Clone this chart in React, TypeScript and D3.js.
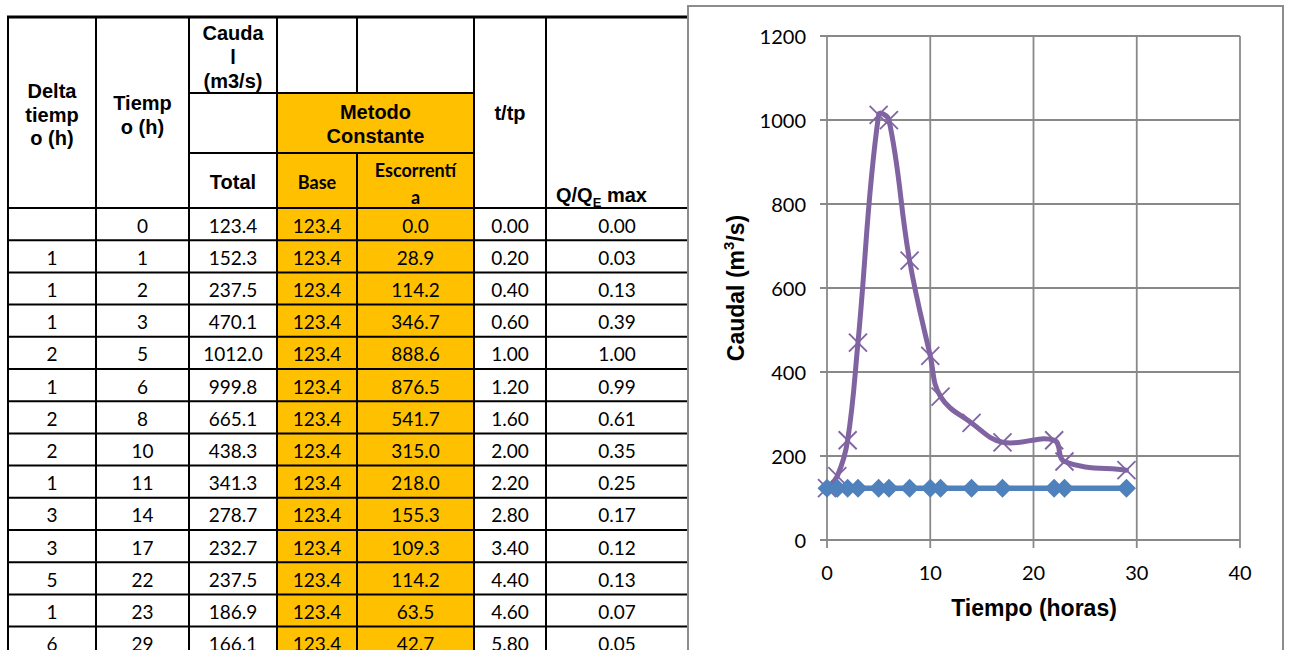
import React from "react";
import * as d3 from "d3";

// Hidrograma: tabla de caudales y gráfico caudal vs tiempo
const deltaT = ["", "1", "1", "1", "2", "1", "2", "2", "1", "3", "3", "5", "1", "6"];
const tiempo = [0, 1, 2, 3, 5, 6, 8, 10, 11, 14, 17, 22, 23, 29];
const caudalTotal = [123.4, 152.3, 237.5, 470.1, 1012.0, 999.8, 665.1, 438.3, 341.3, 278.7, 232.7, 237.5, 186.9, 166.1];
const caudalBase = [123.4, 123.4, 123.4, 123.4, 123.4, 123.4, 123.4, 123.4, 123.4, 123.4, 123.4, 123.4, 123.4, 123.4];
const escorrentia = [0.0, 28.9, 114.2, 346.7, 888.6, 876.5, 541.7, 315.0, 218.0, 155.3, 109.3, 114.2, 63.5, 42.7];
const tSobreTp = [0.0, 0.2, 0.4, 0.6, 1.0, 1.2, 1.6, 2.0, 2.2, 2.8, 3.4, 4.4, 4.6, 5.8];
const qSobreQmax = [0.0, 0.03, 0.13, 0.39, 1.0, 0.99, 0.61, 0.35, 0.25, 0.17, 0.12, 0.13, 0.07, 0.05];

const xTicks = [0, 10, 20, 30, 40];
const yTicks = [0, 200, 400, 600, 800, 1000, 1200];

const ARIAL = "'Liberation Sans', Arial, sans-serif";
const CALIBRI = "Lato, 'Open Sans', sans-serif";
const ORANGE = "#FFC000";
const PURPLE = "#8064A2";
const BLUE = "#4F81BD";
const GRID = "#898989";

// table geometry
const colX = [8, 96, 189, 277, 357, 474, 546, 688];
const headTop = 17;
const headMid1 = 93;
const headMid2 = 153;
const bodyTop = 208;
const rowH = 32.2;
const bottom = 700;

// Smoothed Bezier through points, tangents weighted by neighbouring chord lengths
function smoothPath(pts: [number, number][], k = 0.4): string {
  const p = d3.path();
  const n = pts.length;
  if (!n) return "";
  const dist = (a: [number, number], b: [number, number]) => Math.hypot(b[0] - a[0], b[1] - a[1]);
  const tangents = pts.map((pt, i) => {
    if (i === 0 || i === n - 1) return null;
    const prev = pts[i - 1];
    const next = pts[i + 1];
    const d0 = dist(prev, pt);
    const d1 = dist(pt, next);
    const tx = next[0] - prev[0];
    const ty = next[1] - prev[1];
    const s = d0 + d1 || 1;
    return {
      inX: pt[0] - tx * (d0 / s) * k,
      inY: pt[1] - ty * (d0 / s) * k,
      outX: pt[0] + tx * (d1 / s) * k,
      outY: pt[1] + ty * (d1 / s) * k,
    };
  });
  p.moveTo(pts[0][0], pts[0][1]);
  for (let i = 0; i < n - 1; i++) {
    const a = pts[i];
    const b = pts[i + 1];
    const ta = tangents[i];
    const tb = tangents[i + 1];
    const c1x = ta ? ta.outX : a[0] + (b[0] - a[0]) / 3;
    const c1y = ta ? ta.outY : a[1] + (b[1] - a[1]) / 3;
    const c2x = tb ? tb.inX : b[0] - (b[0] - a[0]) / 3;
    const c2y = tb ? tb.inY : b[1] - (b[1] - a[1]) / 3;
    p.bezierCurveTo(c1x, c1y, c2x, c2y, b[0], b[1]);
  }
  return p.toString();
}

function Table() {
  const cx = (i: number) => (colX[i] + colX[i + 1]) / 2;
  const hdr = { fontFamily: ARIAL, fontWeight: 700, fontSize: 20, fill: "#000" } as const;
  const hdrC = { fontFamily: CALIBRI, fontWeight: 700, fontSize: 18, fill: "#000" } as const;
  const body = { fontFamily: CALIBRI, fontSize: 19, fill: "#000" } as const;

  const rows = tiempo.map((t, i) => ({
    cells: [
      deltaT[i],
      String(t),
      caudalTotal[i].toFixed(1),
      caudalBase[i].toFixed(1),
      escorrentia[i].toFixed(1),
      tSobreTp[i].toFixed(2),
      qSobreQmax[i].toFixed(2),
    ],
    y: bodyTop + i * rowH,
  }));

  return (
    <g>
      {/* orange cells */}
      <rect x={colX[3]} y={headMid1} width={colX[5] - colX[3]} height={bottom - headMid1} fill={ORANGE} />
      {/* header text */}
      {["Delta", "tiemp", "o (h)"].map((s, k) => (
        <text key={s} x={cx(0)} y={91 + k * 23.5} textAnchor="middle" dominantBaseline="central" {...hdr}>{s}</text>
      ))}
      {["Tiemp", "o (h)"].map((s, k) => (
        <text key={s} x={cx(1)} y={103 + k * 23.5} textAnchor="middle" dominantBaseline="central" {...hdr}>{s}</text>
      ))}
      {["Cauda", "l", "(m3/s)"].map((s, k) => (
        <text key={s} x={cx(2)} y={33 + k * 24} textAnchor="middle" dominantBaseline="central" {...hdr}>{s}</text>
      ))}
      <text x={cx(2)} y={182} textAnchor="middle" dominantBaseline="central" {...hdr}>Total</text>
      {["Metodo", "Constante"].map((s, k) => (
        <text key={s} x={(colX[3] + colX[5]) / 2} y={112 + k * 24} textAnchor="middle" dominantBaseline="central" {...hdr}>{s}</text>
      ))}
      <text x={cx(3)} y={182} textAnchor="middle" dominantBaseline="central" {...hdrC}>Base</text>
      {["Escorrentí", "a"].map((s, k) => (
        <text key={s} x={cx(4)} y={170 + k * 27} textAnchor="middle" dominantBaseline="central" {...hdrC}>{s}</text>
      ))}
      <text x={cx(5)} y={113} textAnchor="middle" dominantBaseline="central" {...hdr}>t/tp</text>
      <text x={556} y={202} {...hdr}>
        Q/Q<tspan fontSize={13} dy={5}>E</tspan><tspan dy={-5}> max</tspan>
      </text>

      {/* body text */}
      {rows.map((r, i) =>
        r.cells.map((c, j) => (
          <text key={`${i}-${j}`} x={cx(j)} y={r.y + rowH / 2 + 1} textAnchor="middle" dominantBaseline="central" {...body}>{c}</text>
        ))
      )}

      {/* grid lines */}
      <g stroke="#000" strokeWidth={2}>
        {[0, 1, 2, 3, 5, 6].map((i) => (
          <line key={`v${i}`} x1={colX[i]} x2={colX[i]} y1={headTop} y2={bottom} />
        ))}
        <line x1={colX[4]} x2={colX[4]} y1={headTop} y2={headMid1} />
        <line x1={colX[4]} x2={colX[4]} y1={headMid2} y2={bottom} />
        <line x1={colX[2]} x2={colX[5]} y1={headMid1} y2={headMid1} />
        <line x1={colX[2]} x2={colX[5]} y1={headMid2} y2={headMid2} />
        {rows.map((r, i) => (
          <line key={`h${i}`} x1={colX[0]} x2={colX[7]} y1={r.y} y2={r.y} />
        ))}
        <line x1={colX[0] - 1} x2={colX[7]} y1={headTop} y2={headTop} strokeWidth={3} />
      </g>
    </g>
  );
}

function Chart() {
  const x = d3.scaleLinear().domain([0, 40]).range([827, 1240]);
  const y = d3.scaleLinear().domain([0, 1200]).range([540, 36]);

  const totalPts: [number, number][] = tiempo.map((t, i) => [t, caudalTotal[i]]);
  const basePts: [number, number][] = tiempo.map((t, i) => [t, caudalBase[i]]);
  const totalPx: [number, number][] = totalPts.map(([t, q]) => [x(t), y(q)]);

  const straight = d3
    .line<[number, number]>()
    .x((d) => x(d[0]))
    .y((d) => y(d[1]));

  const tickFont = { fontFamily: CALIBRI, fontSize: 20, fill: "#000" } as const;
  const titleFont = { fontFamily: ARIAL, fontWeight: 700, fontSize: 23, fill: "#000" } as const;
  const xs = 9;
  const ds = 9.5;

  return (
    <g>
      <rect x={688} y={6} width={595} height={700} fill="#fff" stroke="#8c8c8c" strokeWidth={2} />
      {/* gridlines + ticks */}
      <g stroke={GRID} strokeWidth={1.8}>
        {yTicks.map((v) => (
          <line key={`gy${v}`} x1={x(0) - 7} x2={x(40)} y1={y(v)} y2={y(v)} />
        ))}
        {xTicks.map((v) => (
          <line key={`gx${v}`} x1={x(v)} x2={x(v)} y1={y(1200)} y2={y(0) + 8} />
        ))}
      </g>
      {yTicks.map((v) => (
        <text key={`ty${v}`} x={806} y={y(v)} textAnchor="end" dominantBaseline="central" {...tickFont}>{v}</text>
      ))}
      {xTicks.map((v) => (
        <text key={`tx${v}`} x={x(v)} y={572} textAnchor="middle" dominantBaseline="central" {...tickFont}>{v}</text>
      ))}
      <text x={1034} y={608} textAnchor="middle" dominantBaseline="central" {...titleFont}>Tiempo (horas)</text>
      <text transform="translate(736,288) rotate(-90)" textAnchor="middle" dominantBaseline="central" {...titleFont}>
        Caudal (m<tspan fontSize={15} dy={-8}>3</tspan><tspan dy={8}>/s)</tspan>
      </text>

      {/* caudal total */}
      <path d={smoothPath(totalPx)} fill="none" stroke={PURPLE} strokeWidth={5} strokeLinejoin="round" strokeLinecap="round" />
      <g stroke={PURPLE} strokeWidth={1.8}>
        {totalPts.map(([t, q], i) => (
          <g key={`m${i}`} transform={`translate(${x(t)},${y(q)})`}>
            <line x1={-xs} y1={-xs} x2={xs} y2={xs} />
            <line x1={-xs} y1={xs} x2={xs} y2={-xs} />
          </g>
        ))}
      </g>

      {/* caudal base */}
      <path d={straight(basePts) ?? ""} fill="none" stroke={BLUE} strokeWidth={5.5} />
      {basePts.map(([t, q], i) => (
        <path
          key={`d${i}`}
          transform={`translate(${x(t)},${y(q)})`}
          d={`M0,${-ds}L${ds},0L0,${ds}L${-ds},0Z`}
          fill={BLUE}
        />
      ))}
    </g>
  );
}

export default function App() {
  return (
    <div style={{ position: "fixed", left: 0, top: 0, width: 1291, height: 650, overflow: "hidden", background: "#fff" }}>
      <svg width={1291} height={650} style={{ display: "block" }}>
        <rect width={1291} height={650} fill="#fff" />
        <Table />
        <Chart />
      </svg>
    </div>
  );
}
